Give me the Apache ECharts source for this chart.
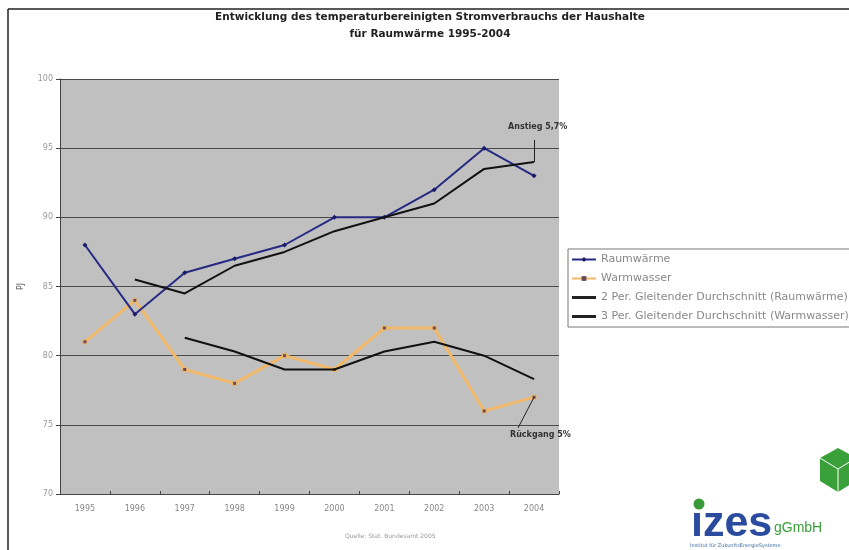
<!DOCTYPE html>
<html>
<head>
<meta charset="utf-8">
<script src="https://cdn.jsdelivr.net/npm/echarts@6/dist/echarts.min.js"></script>
<style>
  html, body { margin: 0; padding: 0; background: #fff; }
  #chart { width: 849px; height: 550px; }
</style>
</head>
<body>
<div id="chart"></div>
<script>
const years = ['1995', '1996', '1997', '1998', '1999', '2000', '2001', '2002', '2003', '2004']
const raumwaerme = [88, 83, 86, 87, 88, 90, 90, 92, 95, 93]
const warmwasser = [81, 84, 79, 78, 80, 79, 82, 82, 76, 77]
// gleitende Durchschnitte
const avgRaum = [null, 85.5, 84.5, 86.5, 87.5, 89, 90, 91, 93.5, 94]
const avgWasser = [null, null, 81.3, 80.3, 79, 79, 80.3, 81, 80, 78.3]
const yTicks = [70, 75, 80, 85, 90, 95, 100]

const font = '"DejaVu Sans", sans-serif'
const lineIcon = 'path://M0,0H24V3H0Z'
const chart = echarts.init(document.getElementById('chart'))

chart.setOption({
  animation: false,
  backgroundColor: '#fff',
  title: {
    text: 'Entwicklung des temperaturbereinigten Stromverbrauchs der Haushalte\nfür Raumwärme 1995-2004',
    left: 425,
    textAlign: 'center',
    top: 4,
    textStyle: { fontFamily: font, fontSize: 10.5, fontWeight: 'bold', color: '#222', lineHeight: 17 }
  },
  grid: { left: 60, right: 290, top: 79, bottom: 56, show: true, backgroundColor: '#c0c0c0', borderWidth: 0 },
  legend: {
    orient: 'vertical',
    left: 568,
    top: 249,
    itemWidth: 24,
    itemHeight: 6,
    itemGap: 8,
    padding: [5, 4, 5, 3],
    borderColor: '#777',
    borderWidth: 1,
    textStyle: { fontFamily: font, fontSize: 11, color: '#888' },
    data: [
      { name: 'Raumwärme' },
      { name: 'Warmwasser' },
      { name: '2 Per. Gleitender Durchschnitt (Raumwärme)', icon: lineIcon, itemStyle: { color: '#222' } },
      { name: '3 Per. Gleitender Durchschnitt (Warmwasser)', icon: lineIcon, itemStyle: { color: '#222' } }
    ]
  },
  xAxis: {
    type: 'category',
    data: years,
    boundaryGap: true,
    axisLine: { lineStyle: { color: '#444' } },
    axisTick: { show: true, length: 3, inside: true, lineStyle: { color: '#444' } },
    axisLabel: { fontFamily: font, fontSize: 8, color: '#888', margin: 11 }
  },
  yAxis: {
    type: 'value',
    min: yTicks[0],
    max: yTicks[yTicks.length - 1],
    interval: 5,
    name: 'PJ',
    nameLocation: 'middle',
    nameGap: 35,
    nameRotate: 90,
    nameTextStyle: { fontFamily: font, fontSize: 8, color: '#555' },
    axisLine: { show: true, lineStyle: { color: '#444' } },
    axisTick: { show: true, length: 4, lineStyle: { color: '#444' } },
    axisLabel: { fontFamily: font, fontSize: 8, color: '#999', margin: 7 },
    splitLine: { lineStyle: { color: '#4a4a4a', width: 1 } }
  },
  series: [
    {
      name: 'Raumwärme',
      type: 'line',
      data: raumwaerme,
      symbol: 'diamond',
      symbolSize: 5,
      lineStyle: { color: '#262a82', width: 2 },
      itemStyle: { color: '#1a1a66' },
      z: 3
    },
    {
      name: 'Warmwasser',
      type: 'line',
      data: warmwasser,
      symbol: 'rect',
      symbolSize: 4,
      lineStyle: { color: '#f0b868', width: 3 },
      itemStyle: { color: '#6a4a5a', borderColor: '#f0b868' },
      z: 2
    },
    {
      name: '2 Per. Gleitender Durchschnitt (Raumwärme)',
      type: 'line',
      data: avgRaum,
      symbol: 'none',
      lineStyle: { color: '#111', width: 2 },
      itemStyle: { color: '#111' },
      z: 4,
      markLine: {
        silent: true,
        symbol: 'none',
        label: { show: false },
        lineStyle: { color: '#222', width: 1, type: 'solid' },
        data: [[{ coord: ['2004', 94] }, { coord: ['2004', 95.6] }]]
      }
    },
    {
      name: '3 Per. Gleitender Durchschnitt (Warmwasser)',
      type: 'line',
      data: avgWasser,
      symbol: 'none',
      lineStyle: { color: '#111', width: 2 },
      itemStyle: { color: '#111' },
      z: 4,
      markLine: {
        silent: true,
        symbol: 'none',
        label: { show: false },
        lineStyle: { color: '#222', width: 1, type: 'solid' },
        data: [[{ coord: ['2004', 77] }, { x: 518, y: 428 }]]
      }
    }
  ],
  graphic: [
    { type: 'line', shape: { x1: 8, y1: 9, x2: 849, y2: 9 }, style: { stroke: '#222', lineWidth: 1.5 } },
    { type: 'line', shape: { x1: 8, y1: 9, x2: 8, y2: 550 }, style: { stroke: '#222', lineWidth: 1.5 } },
    { type: 'text', left: 508, top: 123, style: { text: 'Anstieg 5,7%', font: 'bold 8px ' + font, fill: '#333' } },
    { type: 'text', left: 510, top: 431, style: { text: 'Rückgang 5%', font: 'bold 8px ' + font, fill: '#333' } },
    { type: 'text', left: 345, top: 533, style: { text: 'Quelle: Stat. Bundesamt 2005', font: '6px ' + font, fill: '#999' } },
    // Logo izes
    { type: 'text', left: 691, top: 503, style: { text: 'ızes', font: 'bold 43px "Liberation Sans", sans-serif', fill: '#2b4c9e' } },
    { type: 'circle', shape: { cx: 699, cy: 504, r: 5.5 }, style: { fill: '#3a9a3a' } },
    { type: 'text', left: 774, top: 521, style: { text: 'gGmbH', font: '14px "Liberation Sans", sans-serif', fill: '#3aa03a' } },
    { type: 'text', left: 690, top: 543, style: { text: 'Institut für ZukunftsEnergieSysteme', font: '5px ' + font, fill: '#3a6aa0' } },
    { type: 'polygon', shape: { points: [[838, 448], [856, 458], [856, 481], [838, 492], [820, 481], [820, 458]] }, style: { fill: '#3aa03a' } },
    { type: 'polyline', shape: { points: [[820, 458], [838, 469], [856, 458]] }, style: { stroke: '#fff', lineWidth: 1 } },
    { type: 'line', shape: { x1: 838, y1: 469, x2: 838, y2: 492 }, style: { stroke: '#fff', lineWidth: 1 } }
  ]
})
</script>
</body>
</html>
